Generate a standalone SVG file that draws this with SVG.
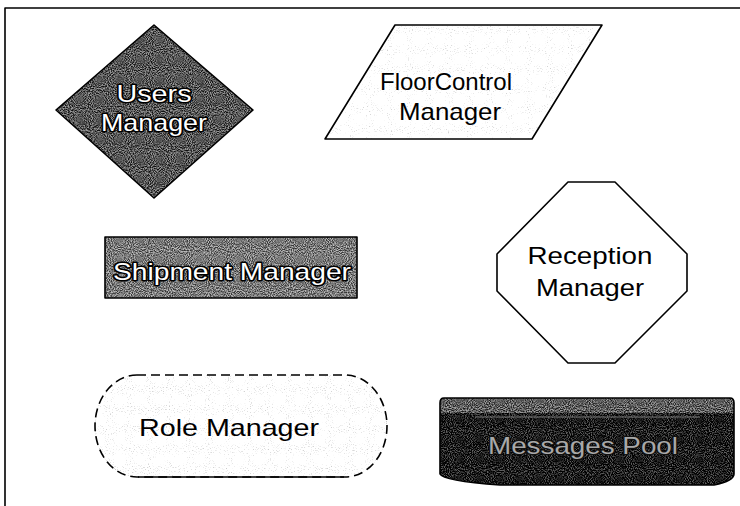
<svg xmlns="http://www.w3.org/2000/svg" width="740" height="506" viewBox="0 0 740 506">
  <defs>
    <!-- print-like speckle: noise added to the fill colour, clipped to the shape -->
    <filter id="grain" x="0" y="0" width="1" height="1" color-interpolation-filters="sRGB">
      <feTurbulence type="fractalNoise" baseFrequency="0.95" numOctaves="1" seed="7" result="noise"/>
      <feColorMatrix in="noise" type="matrix" values="2.6 0 0 0 -0.8  2.6 0 0 0 -0.8  2.6 0 0 0 -0.8  0 0 0 0 1" result="grey"/>
      <feComposite in="SourceGraphic" in2="grey" operator="arithmetic" k1="0" k2="1" k3="0.55" k4="-0.27" result="mix"/>
      <feComposite in="mix" in2="SourceAlpha" operator="in"/>
    </filter>
    <filter id="grainLight" x="0" y="0" width="1" height="1" color-interpolation-filters="sRGB">
      <feTurbulence type="fractalNoise" baseFrequency="0.95" numOctaves="1" seed="11" result="noise"/>
      <feColorMatrix in="noise" type="matrix" values="3 0 0 0 -0.6  3 0 0 0 -0.6  3 0 0 0 -0.6  0 0 0 0 1" result="grey"/>
      <feComposite in="SourceGraphic" in2="grey" operator="arithmetic" k1="0" k2="1" k3="0.35" k4="-0.12" result="mix"/>
      <feComposite in="mix" in2="SourceAlpha" operator="in"/>
    </filter>
  </defs>
  <style>
    .edge { fill: none; stroke: #000; stroke-width: 1.6; stroke-linejoin: round; }
    .dash { fill: none; stroke: #000; stroke-width: 1.6; stroke-dasharray: 9 5; }
    .lbl { font-family: "Liberation Sans", Arial, sans-serif; font-size: 24px; text-anchor: middle; }
    .dark { fill: #000; }
    .inv { fill: #fff; stroke: #000; stroke-width: 3; paint-order: stroke; stroke-linejoin: round; }
    .pale { fill: #a8a8a8; stroke: #111; stroke-width: 2.5; paint-order: stroke; stroke-linejoin: round; }
  </style>

  <rect width="740" height="506" fill="#fff"/>

  <!-- page frame -->
  <g id="frame">
    <polyline class="edge" points="5,506 5,8 740,8" stroke-width="2"/>
  </g>

  <g id="connectors"></g>

  <!-- diamond -->
  <g id="users-manager">
    <polygon points="154,25 253,110 154,198 56,110" fill="#555" filter="url(#grain)"/>
    <polygon class="edge" points="154,25 253,110 154,198 56,110"/>
    <text class="lbl inv" x="154" y="102" font-size="26" textLength="75" lengthAdjust="spacingAndGlyphs">Users</text>
    <text class="lbl inv" x="154" y="131" font-size="25" textLength="106" lengthAdjust="spacingAndGlyphs">Manager</text>
  </g>

  <!-- parallelogram -->
  <g id="floorcontrol-manager">
    <polygon points="395,25 602,25 532,139 325,139" fill="#f1f1f1" filter="url(#grainLight)"/>
    <polygon class="edge" points="395,25 602,25 532,139 325,139"/>
    <text class="lbl dark" x="446" y="90" textLength="132" lengthAdjust="spacingAndGlyphs">FloorControl</text>
    <text class="lbl dark" x="450" y="120" textLength="102" lengthAdjust="spacingAndGlyphs">Manager</text>
  </g>

  <!-- rectangle -->
  <g id="shipment-manager">
    <rect x="105" y="237" width="252" height="61" fill="#777" filter="url(#grain)"/>
    <rect class="edge" x="105" y="237" width="252" height="61"/>
    <text class="lbl inv" x="232" y="280" textLength="238" lengthAdjust="spacingAndGlyphs">Shipment Manager</text>
  </g>

  <!-- octagon -->
  <g id="reception-manager">
    <polygon class="edge" fill="#fff" points="568,182 615,182 687,254 687,291 615,363 568,363 497,291 497,254"/>
    <text class="lbl dark" x="590" y="264" textLength="125" lengthAdjust="spacingAndGlyphs">Reception</text>
    <text class="lbl dark" x="590" y="296" textLength="108" lengthAdjust="spacingAndGlyphs">Manager</text>
  </g>

  <!-- rounded terminal -->
  <g id="role-manager">
    <rect x="95" y="375" width="292" height="102" rx="42" ry="51" fill="#ececec" filter="url(#grainLight)"/>
    <rect class="dash" x="95" y="375" width="292" height="102" rx="42" ry="51"/>
    <line class="edge" x1="138" y1="477" x2="344" y2="477"/>
    <text class="lbl dark" x="229" y="436" textLength="180" lengthAdjust="spacingAndGlyphs">Role Manager</text>
  </g>

  <!-- data store drum -->
  <g id="messages-pool">
    <path d="M444,398 H730 Q734,398 734,403 V474 Q734,481 714,485 H500 Q443,481 440,474 V403 Q440,398 444,398 Z" fill="#1a1a1a" filter="url(#grain)"/>
    <path d="M444,398 H730 Q734,398 734,403 V413 H440 V403 Q440,398 444,398 Z" fill="#5e5e5e" filter="url(#grain)"/>
    <line x1="475" y1="417" x2="700" y2="417" stroke="#777" stroke-width="1"/>
    <path class="edge" d="M444,398 H730 Q734,398 734,403 V474 Q734,481 714,485 H500 Q443,481 440,474 V403 Q440,398 444,398 Z"/>
    <text class="lbl pale" x="583" y="454" textLength="190" lengthAdjust="spacingAndGlyphs">Messages Pool</text>
  </g>
</svg>
